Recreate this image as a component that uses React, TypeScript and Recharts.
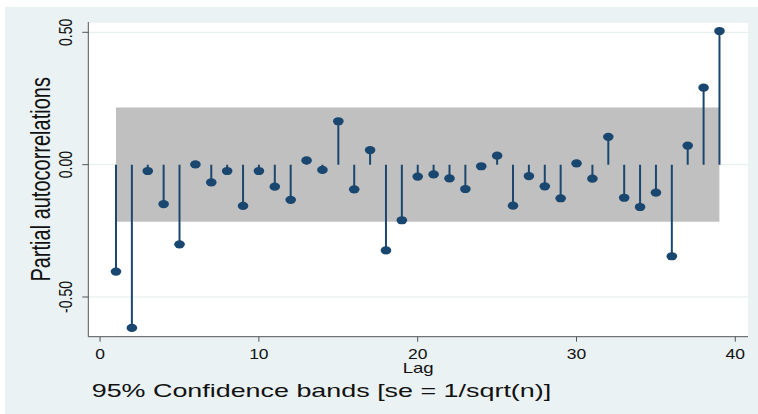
import React from "react";
import {
  ComposedChart,
  Bar,
  XAxis,
  YAxis,
  CartesianGrid,
  ReferenceArea,
} from "recharts";

const lags = [
  1, 2, 3, 4, 5, 6, 7, 8, 9, 10, 11, 12, 13, 14, 15, 16, 17, 18, 19, 20,
  21, 22, 23, 24, 25, 26, 27, 28, 29, 30, 31, 32, 33, 34, 35, 36, 37, 38, 39,
];
const pacValues = [
  -0.404, -0.617, -0.024, -0.149, -0.301, 0.001, -0.067, -0.024, -0.156, -0.024,
  -0.083, -0.133, 0.016, -0.02, 0.164, -0.093, 0.055, -0.324, -0.21, -0.045,
  -0.037, -0.052, -0.092, -0.006, 0.034, -0.155, -0.043, -0.082, -0.127, 0.005,
  -0.053, 0.105, -0.125, -0.16, -0.106, -0.346, 0.072, 0.291, 0.505,
];
const confBand = [-0.216, 0.216];
const bandLags = [1, 39];
const xTicks = [0, 10, 20, 30, 40];
const yTicks = [-0.5, 0, 0.5];
const yTickLabels = ["-0.50", "0.00", "0.50"];

const data = lags.map((lag, i) => ({ lag, pac: pacValues[i] }));

const W = 753;
const H = 407;
const PLOT_LEFT = 83.3;
const PLOT_TOP = 15;
const PLOT_RIGHT = 743;
const PLOT_BOTTOM = 329.7;
const Y_AXIS_W = 60;
const X_AXIS_H = 60;
const FONT = "'Liberation Sans', Arial, sans-serif";
const NAVY = "#1A476F";

const StemShape = (props: any) => {
  const { x, y, width, height, payload } = props;
  if (x == null || y == null) return null;
  const cx = x + (width || 0) / 2;
  const h = height || 0;
  const top = Math.min(y, y + h);
  const bot = Math.max(y, y + h);
  const pos = payload.pac >= 0;
  const vy = pos ? top : bot;
  const zy = pos ? bot : top;
  return (
    <g>
      <line x1={cx} x2={cx} y1={zy} y2={vy} stroke={NAVY} strokeWidth={2} />
      <ellipse cx={cx} cy={vy} rx={5.3} ry={4.1} fill={NAVY} />
    </g>
  );
};

const XTick = (props: any) => {
  const { x, payload } = props;
  return (
    <text
      transform={`translate(${x},351.5) scale(1.25,1)`}
      textAnchor="middle"
      fontSize={14}
      fontFamily={FONT}
      fill="#111"
    >
      {String(payload.value)}
    </text>
  );
};

const YTick = (props: any) => {
  const { y, payload } = props;
  const idx = yTicks.indexOf(payload.value);
  const label = idx >= 0 ? yTickLabels[idx] : String(payload.value);
  return (
    <text
      transform={`translate(67,${y}) scale(1.3,1) rotate(-90)`}
      textAnchor="middle"
      fontSize={14}
      fontFamily={FONT}
      fill="#111"
    >
      {label}
    </text>
  );
};

export default function App() {
  return (
    <div
      style={{
        position: "absolute",
        left: 0,
        top: 0,
        width: 758,
        height: 414,
        background: "#ffffff",
      }}
    >
      <div
        style={{
          position: "absolute",
          left: 5,
          top: 7,
          width: W,
          height: H,
          background: "#EAF2F3",
        }}
      >
        <ComposedChart
          width={W}
          height={H}
          data={data}
          margin={{
            top: PLOT_TOP,
            right: W - PLOT_RIGHT,
            left: PLOT_LEFT - Y_AXIS_W,
            bottom: H - PLOT_BOTTOM - X_AXIS_H,
          }}
        >
          <CartesianGrid
            vertical={false}
            stroke="#E3ECEE"
            strokeWidth={1}
            fill="#FFFFFF"
            fillOpacity={1}
          />
          <ReferenceArea
            x1={bandLags[0]}
            x2={bandLags[1]}
            y1={confBand[0]}
            y2={confBand[1]}
            fill="#C0C0C0"
            fillOpacity={1}
            stroke="none"
            ifOverflow="visible"
          />
          <XAxis
            dataKey="lag"
            type="number"
            domain={[-0.74, 40.8]}
            ticks={xTicks}
            allowDataOverflow
            height={X_AXIS_H}
            tickSize={5}
            stroke="#555"
            tickLine={{ stroke: "#555" }}
            axisLine={{ stroke: "#555" }}
            tick={<XTick />}
            interval={0}
            label={{
              content: () => (
                <text
                  transform={`translate(${(PLOT_LEFT + PLOT_RIGHT) / 2},366.3) scale(1.33,1)`}
                  textAnchor="middle"
                  fontSize={14}
                  fontFamily={FONT}
                  fill="#111"
                >
                  Lag
                </text>
              ),
            }}
          />
          <YAxis
            type="number"
            domain={[-0.65, 0.539]}
            ticks={yTicks}
            allowDataOverflow
            width={Y_AXIS_W}
            tickSize={6}
            stroke="#555"
            tickLine={{ stroke: "#555" }}
            axisLine={{ stroke: "#555" }}
            tick={<YTick />}
            interval={0}
            label={{
              content: () => (
                <text
                  transform={`translate(45,${(PLOT_TOP + PLOT_BOTTOM) / 2}) scale(1.4,1) rotate(-90)`}
                  textAnchor="middle"
                  fontSize={20}
                  fontFamily={FONT}
                  fill="#111"
                >
                  Partial autocorrelations
                </text>
              ),
            }}
          />
          <Bar
            dataKey="pac"
            barSize={2}
            shape={<StemShape />}
            isAnimationActive={false}
          />
        </ComposedChart>
        <svg
          width={W}
          height={H}
          style={{ position: "absolute", left: 0, top: 0, pointerEvents: "none" }}
        >
          <text
            transform="translate(86.7,389.7) scale(1.446,1)"
            textAnchor="start"
            fontSize={18.6}
            fontFamily={FONT}
            fill="#111"
          >
            95% Confidence bands [se = 1/sqrt(n)]
          </text>
        </svg>
      </div>
    </div>
  );
}
